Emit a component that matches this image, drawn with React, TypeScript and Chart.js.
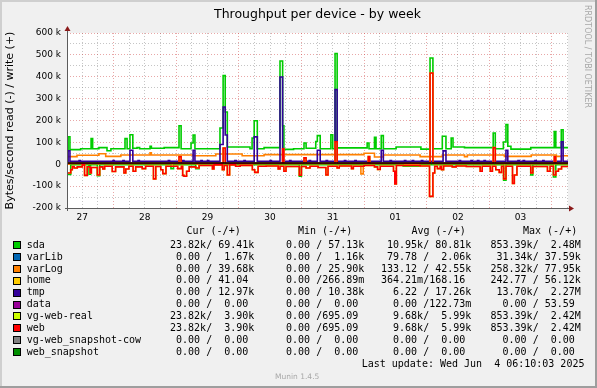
import React, { useEffect, useRef } from "react";
import { Chart, registerables } from "chart.js";

Chart.register(...registerables);

type Pt = [number, number];

const W = 597;
const H = 388;

const TITLE = "Throughput per device - by week";
const Y_TITLE = "Bytes/second read (-) / write (+)";
const LAST_UPDATE = "Last update: Wed Jun  4 06:10:03 2025";
const WATERMARK = "RRDTOOL / TOBI OETIKER";
const VERSION = "Munin 1.4.5";

// x axis: hours after 27 May 00:00; graph spans 27 May 06:10 -> 4 Jun 06:10
const X_MIN = 6.17;
const X_MAX = 198.17;
const DAY_LABELS = ["27", "28", "29", "30", "31", "01", "02", "03"];
const DAY_LABEL_HOURS = [12, 36, 60, 84, 108, 132, 156, 180];

const Y_MIN = -200000;
const Y_MAX = 600000;
const Y_TICK_VALUES = [-200000, -100000, 0, 100000, 200000, 300000, 400000, 500000, 600000];
const Y_TICK_LABELS = ["-200 k", "-100 k", "0", "100 k", "200 k", "300 k", "400 k", "500 k", "600 k"];

// ---- series: change points [hour, value in k] (value holds until next point) ----
const sdaWrite: Pt[] = [
  [6.17, 67], [6.6, 126], [7.3, 67], [11.4, 71], [15.4, 117], [16.0, 71], [18.4, 76], [21.5, 62],
  [23.0, 71], [28.4, 117], [29.2, 71], [30.3, 135], [31.4, 73], [33, 76], [34, 71], [38, 82],
  [38.5, 73], [43.4, 76], [49.1, 176], [49.9, 71], [53.7, 97], [54.5, 134], [55.2, 71],
  [64.8, 166], [66.0, 405], [66.8, 239], [67.6, 79], [76.3, 71], [77.1, 120], [77.9, 199],
  [79.1, 71], [81.7, 76], [87.8, 472], [88.8, 176], [89.3, 68], [93, 71], [97.0, 97], [97.8, 73],
  [101.5, 104], [102.1, 131], [103.2, 71], [107.3, 135], [108.0, 71], [108.9, 506], [109.7, 75],
  [121.2, 97], [121.9, 71], [124.0, 123], [124.6, 71], [126.6, 131], [127.4, 71], [132.3, 79],
  [141.8, 69], [145.3, 486], [146.4, 71], [150.0, 128], [151.4, 71], [153.4, 120], [154.1, 79],
  [158.5, 76], [169.5, 143], [170.3, 71], [173.4, 102], [174.4, 181], [175.1, 82], [176.3, 69],
  [183.9, 76], [192.9, 149], [193.5, 76], [195.6, 158], [196.3, 76],
];
const sdaRead: Pt[] = [
  [6.17, -47], [7.6, -2], [14.6, -45], [15.2, -2], [17.8, -52], [18.7, -2], [46, -20], [47, -2],
  [55.5, -20], [56.8, -2], [95.2, -55], [96.0, -2], [135, -9], [141.5, -2], [173.5, -73],
  [174.4, -2], [183.9, -49], [184.7, -2], [192.6, -58], [193.5, -2],
];
const varLibWrite: Pt[] = [[6.17, 2]];
const varLibRead: Pt[] = [[6.17, 0]];
const varLogWrite: Pt[] = [
  [6.17, 35], [10.0, 41], [18.4, 48], [21.0, 36], [26.8, 42], [38.0, 52], [38.5, 42], [54.5, 39],
  [63.2, 47], [73.3, 39], [81.7, 44], [120.0, 50], [124.0, 33], [127.4, 42], [141.5, 35],
  [150.0, 42], [158.5, 35], [159.6, 42], [173.8, 36], [184.1, 42], [193.7, 36], [195.6, 39],
];
const varLogRead: Pt[] = [[6.17, 0], [118.8, -44], [119.7, 0]];
const homeWrite: Pt[] = [[6.17, 0]];
const homeRead: Pt[] = [[6.17, 0]];
const tmpWrite: Pt[] = [
  [6.17, 13], [6.6, 62], [7.3, 13], [10.8, 17], [11.3, 13], [23.8, 17], [24.3, 13], [27.6, 17],
  [28.1, 13], [30.3, 64], [31.4, 13], [33.4, 17], [33.9, 13], [45.0, 17], [45.5, 13], [50.5, 17],
  [51.0, 13], [54.5, 64], [55.2, 13], [57.5, 17], [58.0, 13], [60.0, 17], [60.5, 13], [64.8, 90],
  [66.0, 262], [66.8, 134], [67.6, 13], [70.5, 17], [71.0, 13], [74.0, 17], [74.5, 13],
  [77.9, 125], [79.1, 13], [84.0, 17], [84.5, 13], [87.8, 399], [88.8, 13], [91.5, 17], [92.0, 13],
  [99.0, 17], [99.5, 13], [102.1, 64], [103.2, 13], [105.5, 17], [106.0, 13], [108.9, 341],
  [109.7, 13], [112.5, 17], [113.0, 13], [116.5, 17], [117.0, 13], [126.6, 64], [127.4, 13],
  [130.0, 17], [130.5, 13], [135.5, 17], [136.0, 13], [138.5, 17], [139.0, 13], [142.0, 17],
  [142.5, 13], [150.3, 61], [151.4, 13], [156.5, 17], [157.0, 13], [161.0, 17], [161.5, 13],
  [163.5, 17], [164.0, 13], [166.0, 17], [166.5, 13], [174.4, 64], [175.1, 13], [179.0, 17],
  [179.5, 13], [181.0, 17], [181.5, 13], [185.5, 17], [186.0, 13], [188.5, 17], [189.0, 13],
  [195.6, 103], [196.3, 13],
];
const tmpRead: Pt[] = [[6.17, 0]];
const dataWrite: Pt[] = [[6.17, 0]];
const dataRead: Pt[] = [[6.17, 0]];
const webWrite: Pt[] = [
  [6.17, 4], [49.1, 35], [49.9, 4], [66.0, 74], [66.8, 4], [88.8, 71], [89.3, 4], [97.0, 29],
  [97.8, 4], [108.9, 103], [109.7, 4], [121.6, 35], [122.2, 4], [145.3, 417], [146.4, 4],
  [169.5, 76], [170.3, 4], [192.9, 35], [193.5, 4],
];
const webRead: Pt[] = [
  [6.17, -40], [7.6, -25], [8.2, -10], [8.9, -17], [10.1, -12], [12.0, -3], [12.9, -51],
  [13.9, -12], [15.0, -40], [15.5, -15], [17.8, -49], [18.7, -12], [19.9, -22], [20.6, -9],
  [23.5, -33], [24.8, -12], [28.0, -40], [28.7, -22], [29.9, -9], [31.5, -32], [32.5, -12],
  [35.0, -20], [36.3, -9], [39.3, -67], [40.2, -10], [42.1, -25], [42.9, -43], [44.1, -9],
  [48.6, -20], [50.0, -9], [50.5, -51], [51.0, -55], [52.0, -32], [53.0, -12], [55.5, -17],
  [56.8, -6], [61.9, -21], [62.5, -3], [65.7, -25], [66.4, -6], [67.6, -49], [68.5, -3],
  [70.8, -9], [72.5, -5], [77.2, -25], [78.1, -37], [79.4, -9], [82.5, -8], [87.1, -21],
  [87.8, -9], [89.3, -32], [90.1, -10], [95.2, -50], [96.0, -10], [97.8, -17], [99.3, -9],
  [102.4, -15], [105.4, -49], [106.2, -9], [109.7, -17], [110.5, -8], [115.2, -20], [115.9, -9],
  [120.0, -6], [124.0, -12], [125.2, -24], [126.2, -9], [131.3, -32], [131.8, -90], [132.4, -6],
  [141.5, -8], [145.1, -147], [146.4, -40], [147.1, -9], [148.1, -20], [149.2, -9], [149.7, -25],
  [150.5, -8], [153.8, -12], [155.3, -8], [159.2, -10], [164.5, -32], [165.3, -9], [168.4, -32],
  [169.2, -9], [170.5, -25], [171.8, -37], [172.7, -9], [173.5, -67], [174.4, -9], [176.9, -88],
  [177.6, -49], [178.6, -9], [183.9, -40], [184.7, -10], [190.3, -32], [191.3, -9], [192.6, -49],
  [193.5, -32], [194.5, -22], [195.7, -10],
];
// vg-web-real carries the same values as web (see legend)
const vgWebRealWrite: Pt[] = webWrite;
const vgWebRealRead: Pt[] = webRead;
const cowWrite: Pt[] = [[6.17, 0]];
const cowRead: Pt[] = [[6.17, 0]];
const snapWrite: Pt[] = [[6.17, 0]];
const snapRead: Pt[] = [[6.17, 0]];

// ---- legend ----
const FIELDS = ["sda", "varLib", "varLog", "home", "tmp", "data", "vg-web-real", "web", "vg-web_snapshot-cow", "web_snapshot"];
const COLORS = ["#00CC00", "#0066B3", "#FF8000", "#FFCC00", "#330099", "#990099", "#CCFF00", "#FF0000", "#808080", "#008F00"];
const HEADERS = ["Cur (-/+)", "Min (-/+)", "Avg (-/+)", "Max (-/+)"];
const CUR = [" 23.82k/ 69.41k", "  0.00 /  1.67k", "  0.00 / 39.68k", "  0.00 / 41.04 ", "  0.00 / 12.97k", "  0.00 /  0.00 ", " 23.82k/  3.90k", " 23.82k/  3.90k", "  0.00 /  0.00 ", "  0.00 /  0.00 "];
const MIN = ["  0.00 / 57.13k", "  0.00 /  1.16k", "  0.00 / 25.90k", "  0.00 /266.89m", "  0.00 / 10.38k", "  0.00 /  0.00 ", "  0.00 /695.09 ", "  0.00 /695.09 ", "  0.00 /  0.00 ", "  0.00 /  0.00 "];
const AVG = [" 10.95k/ 80.81k", " 79.78 /  2.06k", "133.12 / 42.55k", "364.21m/168.16 ", "  6.22 / 17.26k", "  0.00 /122.73m", "  9.68k/  5.99k", "  9.68k/  5.99k", "  0.00 /  0.00 ", "  0.00 /  0.00 "];
const MAX = ["853.39k/  2.48M", " 31.34k/ 37.59k", "258.32k/ 77.95k", "242.77 / 56.12k", " 13.70k/  2.27M", "  0.00 / 53.59 ", "853.39k/  2.42M", "853.39k/  2.42M", "  0.00 /  0.00 ", "  0.00 /  0.00 "];

const COL_X = [164, 274, 381, 490.5];
const HEAD_X = [186.5, 298, 411.5, 523];

const MAJOR = "rgba(205,60,60,0.45)";
const MINOR = "rgba(140,140,140,0.5)";

function toData(pts: Pt[]) {
  const d = pts.map(([x, y]) => ({ x, y: y * 1000 }));
  d.push({ x: X_MAX, y: pts[pts.length - 1][1] * 1000 });
  return d;
}

const muninPlugin = {
  id: "muninFrame",
  beforeDraw(chart: any) {
    const { ctx, chartArea } = chart;
    ctx.save();
    ctx.fillStyle = "#FFFFFF";
    ctx.fillRect(chartArea.left, chartArea.top, chartArea.right - chartArea.left, chartArea.bottom - chartArea.top);
    ctx.restore();
  },
  afterDatasetsDraw(chart: any) {
    const { ctx, chartArea } = chart;
    const { left, right, top, bottom } = chartArea;
    const y0 = chart.scales.y.getPixelForValue(0) - 1.2;
    ctx.save();
    // zero rule
    ctx.strokeStyle = "#000000";
    ctx.lineWidth = 1.6;
    ctx.beginPath();
    ctx.moveTo(left, y0);
    ctx.lineTo(right, y0);
    ctx.stroke();
    // axes
    ctx.strokeStyle = "#5c5c5c";
    ctx.lineWidth = 1;
    ctx.beginPath();
    ctx.moveTo(left - 2, bottom + 0.5);
    ctx.lineTo(right + 2, bottom + 0.5);
    ctx.moveTo(left + 0.5, bottom + 3);
    ctx.lineTo(left + 0.5, top - 2);
    ctx.stroke();
    // arrows
    ctx.fillStyle = "#8B1A1A";
    ctx.beginPath();
    ctx.moveTo(left + 0.5, top - 7);
    ctx.lineTo(left - 2.5, top - 2);
    ctx.lineTo(left + 3.5, top - 2);
    ctx.closePath();
    ctx.fill();
    ctx.beginPath();
    ctx.moveTo(right + 6, bottom + 0.5);
    ctx.lineTo(right + 1, bottom - 2.5);
    ctx.lineTo(right + 1, bottom + 3.5);
    ctx.closePath();
    ctx.fill();
    ctx.restore();
  },
};

export default function App() {
  const ref = useRef<HTMLCanvasElement>(null);

  useEffect(() => {
    if (!ref.current) return;
    Chart.defaults.font.family = "'DejaVu Sans'";

    // bottom -> top drawing order
    const draw: [string, Pt[], string][] = [
      ["varLib read", varLibRead, COLORS[1]],
      ["varLib write", varLibWrite, COLORS[1]],
      ["home read", homeRead, COLORS[3]],
      ["home write", homeWrite, COLORS[3]],
      ["data read", dataRead, COLORS[5]],
      ["data write", dataWrite, COLORS[5]],
      ["vg-web_snapshot-cow read", cowRead, COLORS[8]],
      ["vg-web_snapshot-cow write", cowWrite, COLORS[8]],
      ["web_snapshot read", snapRead, COLORS[9]],
      ["web_snapshot write", snapWrite, COLORS[9]],
      ["tmp read", tmpRead, COLORS[4]],
      ["varLog read", varLogRead, COLORS[2]],
      ["sda read", sdaRead, COLORS[0]],
      ["sda write", sdaWrite, COLORS[0]],
      ["varLog write", varLogWrite, COLORS[2]],
      ["tmp write", tmpWrite, COLORS[4]],
      ["vg-web-real read", vgWebRealRead, COLORS[6]],
      ["vg-web-real write", vgWebRealWrite, COLORS[6]],
      ["web read", webRead, COLORS[7]],
      ["web write", webWrite, COLORS[7]],
    ];

    const datasets = draw.map(([label, pts, color], i) => ({
      label,
      data: toData(pts),
      borderColor: color,
      backgroundColor: color,
      borderWidth: 1.6,
      pointRadius: 0,
      stepped: "before" as const,
      fill: false,
      tension: 0,
      borderCapStyle: "butt" as const,
      borderJoinStyle: "miter" as const,
      order: draw.length - i,
    }));

    const chart = new Chart(ref.current, {
      type: "line",
      data: { datasets },
      plugins: [muninPlugin],
      options: {
        animation: false,
        responsive: false,
        devicePixelRatio: 1,
        events: [],
        layout: { autoPadding: false, padding: { left: 0, right: 29, top: 33, bottom: 160 } },
        plugins: { legend: { display: false }, tooltip: { enabled: false }, title: { display: false } },
        scales: {
          x: {
            type: "linear",
            min: X_MIN,
            max: X_MAX,
            afterBuildTicks: (s: any) => {
              const t: { value: number }[] = [];
              for (let h = 12; h <= X_MAX; h += 6) t.push({ value: h });
              s.ticks = t;
            },
            afterFit: (s: any) => {
              s.height = 20;
            },
            grid: {
              color: (c: any) => (c.tick && c.tick.value % 24 === 0 ? MAJOR : MINOR),
              lineWidth: 1,
              drawTicks: false,
            },
            border: { display: false, dash: [1, 2] },
            ticks: {
              autoSkip: false,
              maxRotation: 0,
              minRotation: 0,
              padding: 4,
              color: "#000",
              font: { size: 9 },
              callback: (v: any) => {
                const i = DAY_LABEL_HOURS.indexOf(Number(v));
                return i >= 0 ? DAY_LABELS[i] : "";
              },
            },
          },
          y: {
            type: "linear",
            min: Y_MIN,
            max: Y_MAX,
            afterBuildTicks: (s: any) => {
              const t: { value: number }[] = [];
              for (let v = Y_MIN; v <= Y_MAX; v += 50000) t.push({ value: v });
              s.ticks = t;
            },
            afterFit: (s: any) => {
              s.width = 67;
            },
            grid: {
              color: (c: any) => (c.tick && c.tick.value % 100000 === 0 ? MAJOR : MINOR),
              lineWidth: 1,
              drawTicks: false,
            },
            border: { display: false, dash: [1, 2] },
            title: {
              display: true,
              text: Y_TITLE,
              color: "#000",
              font: { size: 11 },
              padding: { top: 4, bottom: 0 },
            },
            ticks: {
              autoSkip: false,
              padding: 6,
              color: "#000",
              font: { size: 9 },
              callback: (v: any) => {
                const i = Y_TICK_VALUES.indexOf(Number(v));
                return i >= 0 ? Y_TICK_LABELS[i] : "";
              },
            },
          },
        },
      },
    } as any);
    return () => chart.destroy();
  }, []);

  const mono = "'DejaVu Sans Mono', monospace";
  const rowY = (i: number) => 245 + 11.9 * i;

  return (
    <div
      style={{
        position: "absolute",
        left: 0,
        top: 0,
        width: W,
        height: H,
        background: "#F0F0F0",
        overflow: "hidden",
        fontFamily: "'DejaVu Sans', sans-serif",
        color: "#000",
      }}
    >
      <canvas ref={ref} width={W} height={H} style={{ position: "absolute", left: 0, top: 0, width: W, height: H }} />
      {/* frame */}
      <div style={{ position: "absolute", left: 0, top: 0, width: W, height: 2, background: "#CFCFCF" }} />
      <div style={{ position: "absolute", left: 0, top: 0, width: 2, height: H, background: "#CFCFCF" }} />
      <div style={{ position: "absolute", left: 0, top: H - 2, width: W, height: 2, background: "#9E9E9E" }} />
      <div style={{ position: "absolute", left: W - 2, top: 0, width: 2, height: H, background: "#9E9E9E" }} />

      <div
        style={{
          position: "absolute",
          left: 167.5,
          top: 5.6,
          width: 300,
          textAlign: "center",
          fontSize: 12.5,
          lineHeight: "15px",
          whiteSpace: "pre",
        }}
      >
        {TITLE}
      </div>

      <div
        style={{
          position: "absolute",
          left: 582.8,
          top: 5,
          width: 9,
          lineHeight: "9px",
          fontSize: 8,
          color: "#A8A8A8",
          writingMode: "vertical-rl",
          whiteSpace: "pre",
        }}
      >
        {WATERMARK}
      </div>

      {HEADERS.map((h, j) => (
        <div
          key={"h" + j}
          style={{ position: "absolute", left: HEAD_X[j], top: 231.7 - 6.3, fontFamily: mono, fontSize: 10, lineHeight: "12px", whiteSpace: "pre" }}
        >
          {h}
        </div>
      ))}

      {FIELDS.map((f, i) => (
        <React.Fragment key={f}>
          <div
            style={{
              position: "absolute",
              left: 13,
              top: rowY(i) - 4,
              width: 8,
              height: 8,
              boxSizing: "border-box",
              border: "1px solid #000",
              background: COLORS[i],
            }}
          />
          <div style={{ position: "absolute", left: 26.7, top: rowY(i) - 6.3, fontFamily: mono, fontSize: 10, lineHeight: "12px", whiteSpace: "pre" }}>
            {f}
          </div>
          {[CUR[i], MIN[i], AVG[i], MAX[i]].map((s, j) => (
            <div
              key={j}
              style={{ position: "absolute", left: COL_X[j], top: rowY(i) - 6.3, fontFamily: mono, fontSize: 10, lineHeight: "12px", whiteSpace: "pre" }}
            >
              {s}
            </div>
          ))}
        </React.Fragment>
      ))}

      <div style={{ position: "absolute", left: 361.7, top: 364.3 - 6.3, fontFamily: mono, fontSize: 10, lineHeight: "12px", whiteSpace: "pre" }}>
        {LAST_UPDATE}
      </div>

      <div style={{ position: "absolute", left: 275, top: 377 - 5, fontSize: 7.5, lineHeight: "10px", color: "#A8A8A8", whiteSpace: "pre" }}>
        {VERSION}
      </div>
    </div>
  );
}
